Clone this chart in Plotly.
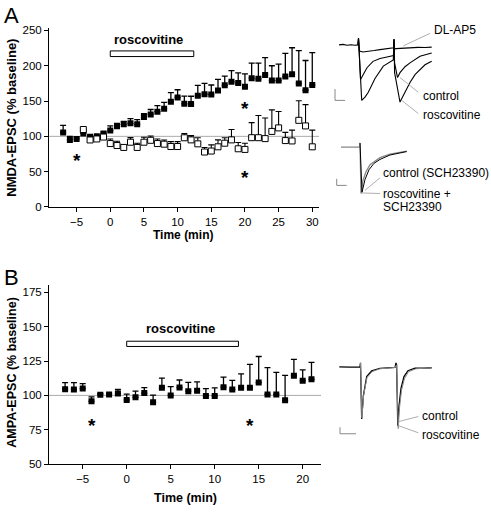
import plotly.graph_objects as go

W, H = 491, 513
FONT = "Liberation Sans, Arial, Helvetica, sans-serif"

# ---------------- Panel A data (NMDA-EPSC, % baseline) ----------------
tA_rosc = list(range(-7, 31))
nmda_rosc = [105.6, 94.9, 96.3, 104.2, 99.5, 100, 104.2, 108.3, 114.4, 117.1,
             118.5, 117.1, 127.3, 131, 135, 139, 149, 155, 146, 145.8,
             157.4, 159.7, 159.3, 164.8, 172.2, 177.3, 175.5, 170.4, 182.4, 181.5,
             187, 179, 179, 184.7, 188, 175, 165.3, 172.7]
nmda_rosc_err = [10, 5, 3, 2, 1.5, 1.5, 2, 6.5, 4, 4.2,
                 6.5, 6.5, 4.7, 7, 8.5, 9, 13, 11, 11, 11,
                 14.8, 15.3, 13.4, 15.8, 13, 15.7, 14.3, 18, 21.3, 22.2,
                 24.6, 21, 23.3, 32.9, 37.5, 46.3, 42.1, 45.8]

tA_sch = list(range(-4, 31))
nmda_sch = [109.7, 94.9, 96.3, 99, 89.8, 87, 84.3, 91.7, 84.3, 91.7,
            94.4, 89.8, 88.9, 85.6, 85.6, 98, 95, 89.4, 77.8, 79.2,
            85.2, 90.3, 95, 82.4, 81.5, 98.1, 98.1, 96.8, 107, 112,
            94, 93.5, 122.7, 114.8, 85.2]
nmda_sch_err = [0, 1, 1, 1, 6.5, 6, 3, 6.5, 6, 7,
                6, 6.5, 6, 7, 7, 6, 6, 8.6, 6.5, 8.8,
                9.8, 7.7, 14.7, 8.8, 8.8, 21.3, 31.5, 29.2, 30.5, 23.2,
                11.6, 15.3, 27.8, 30.2, 23.6]

# ---------------- Panel B data (AMPA-EPSC, % baseline) ----------------
tB = list(range(-7, 22))
ampa = [104.5, 104.3, 105, 95.7, 100.5, 100.7, 101.4, 96.7, 98.6, 101.7,
        95, 105.5, 100, 105.7, 103.1, 103.3, 99.5, 99.5, 106, 104.3,
        105.5, 105.5, 109.3, 100.7, 100.7, 96.4, 114.3, 110.7, 111.7]
ampa_err = [4.8, 5, 3.6, 3.3, 0.8, 0.8, 2.9, 4.3, 4.5, 4,
            5.2, 7.1, 6.4, 5.5, 6.4, 6.5, 5.5, 6, 7.3, 6.7,
            10.2, 17.1, 19, 19.5, 16, 18.1, 11.9, 7.9, 12.3]

xticksA = [-5, 0, 5, 10, 15, 20, 25, 30]
yticksA = [0, 50, 100, 150, 200, 250]
xticksB = [-5, 0, 5, 10, 15, 20]
yticksB = [50, 75, 100, 125, 150, 175]

starsA_x = [-5, 20, 20]
starsA_y = [73, 146, 49]
starsB_x = [-4, 14]
starsB_y = [82, 82]

# ---------------- Example current traces (inset frame units) ----------------
# Panel A, NMDA traces (DL-AP5, control, roscovitine)
ap5_x = [339, 343, 347, 351, 355, 358, 358.5, 359.5, 363, 368, 374, 380, 387, 393.5, 394, 394.6, 396, 402, 410, 418, 425, 431.7]
ap5_y = [41.7, 41.2, 42, 41.5, 42, 41.7, 35, 48, 49, 48.5, 47.5, 46.5, 45.5, 44.6, 36, 46, 45.5, 45, 44.5, 44.2, 44.4, 44]
ctl_x = [358, 358.5, 360.5, 363, 367, 373, 380, 387, 393.5, 394, 394.6, 397.5, 400, 405, 410, 420, 431.7]
ctl_y = [41.7, 35, 77, 72, 65, 58.5, 55.5, 54, 52.5, 36, 60, 75, 70, 64, 60, 53.3, 50]
ros_x = [358, 358.5, 361.7, 365, 368.3, 375, 383.3, 393.3, 394, 394.6, 400, 405, 410, 415, 420, 425, 431.7]
ros_y = [41.7, 35, 98.3, 95, 90, 76, 63.3, 57, 36, 70, 100, 90, 80, 72, 66.7, 62, 58.3]
# Panel A, SCH23390 traces
schc_x = [341, 350, 359.5, 360, 361, 363, 366, 370, 375, 380, 390, 400, 406.7]
schc_y = [146, 146.3, 146, 141.7, 193.3, 180, 171, 164, 160, 156.7, 153, 151, 150]
schr_x = [360, 362, 365, 369, 374, 380, 390, 400, 406.7]
schr_y = [141.7, 192, 179, 169, 162.5, 158.5, 154, 151.5, 150.5]
# Panel B, AMPA traces
ampc_x = [339.3, 350, 360, 360.5, 361.7, 363.3, 366.7, 371.7, 380, 395, 396, 396.6, 397.8, 399, 401, 404, 408, 415, 424, 431.7]
ampc_y = [370, 370.4, 370, 366, 423.3, 400, 380, 374, 371.7, 370.7, 366, 368, 430, 410, 392, 380, 374, 371.5, 371.3, 371]
ampr_x = [360.5, 361.9, 363.6, 367, 372, 380, 395, 396.6, 398.2, 399.5, 401.5, 404.5, 408.5, 416, 431.7]
ampr_y = [366, 422, 399, 381, 375, 372, 370.7, 368, 433, 412, 394, 382, 375, 372, 371]

fig = go.Figure()

# ---- Panel A scatter
fig.add_trace(go.Scatter(
    x=tA_rosc, y=nmda_rosc, mode="markers", xaxis="x", yaxis="y",
    marker=dict(symbol="square", size=6, color="black"),
    error_y=dict(type="data", symmetric=False, array=nmda_rosc_err,
                 arrayminus=[0] * len(nmda_rosc_err), color="black", thickness=1.3, width=3),
    showlegend=False))
fig.add_trace(go.Scatter(
    x=tA_sch, y=nmda_sch, mode="markers", xaxis="x", yaxis="y",
    marker=dict(symbol="square", size=6, color="white", line=dict(color="black", width=1)),
    error_y=dict(type="data", symmetric=False, array=nmda_sch_err,
                 arrayminus=[0] * len(nmda_sch_err), color="black", thickness=1.1, width=3),
    showlegend=False))

# ---- Panel B scatter
fig.add_trace(go.Scatter(
    x=tB, y=ampa, mode="markers", xaxis="x2", yaxis="y2",
    marker=dict(symbol="square", size=6, color="black"),
    error_y=dict(type="data", symmetric=False, array=ampa_err,
                 arrayminus=[0] * len(ampa_err), color="black", thickness=1.3, width=3),
    showlegend=False))

# ---- Inset traces
def tr(x, y, color="black", w=1.1):
    fig.add_trace(go.Scatter(x=x, y=y, mode="lines", xaxis="x3", yaxis="y3",
                             line=dict(color=color, width=w), showlegend=False,
                             hoverinfo="skip"))

tr(ap5_x, ap5_y)
tr(ctl_x, ctl_y)
tr(ros_x, ros_y)
tr(schc_x, schc_y, "#888888", 1.3)
tr(schr_x, schr_y, "black", 1.0)
tr(ampc_x, ampc_y, "black", 1.3)
tr(ampr_x, ampr_y, "#888888", 1.0)
# scale bars
tr([335, 335, 345], [86.7, 98.3, 98.3], "#888888", 1)
tr([336.7, 336.7, 346.7], [178.3, 185, 185], "#888888", 1)
tr([340, 340, 356], [431.7, 438.3, 438.3], "#888888", 1)
# leader lines
for (x0, y0, x1, y1) in [(430, 30, 403.3, 42.7), (418.3, 90, 400, 75), (418.3, 111.7, 401.7, 98.3),
                         (380, 177.3, 365, 190), (380, 193.3, 361.7, 192.7),
                         (418.3, 420.7, 398.3, 426), (418.3, 437.3, 398.3, 430)]:
    tr([x0, x1], [y0, y1], "#999999", 0.8)

axis_common = dict(showline=True, linecolor="black", linewidth=1, ticks="outside",
                   ticklen=4, tickwidth=1, tickcolor="black", showgrid=False,
                   zeroline=False, mirror=False,
                   tickfont=dict(family=FONT, size=11.5, color="black"))

def dom_x(a, b):
    return [a / W, b / W]

def dom_y(top, bottom):
    return [1 - bottom / H, 1 - top / H]

fig.update_layout(
    width=W, height=H, margin=dict(l=0, r=0, t=0, b=0),
    paper_bgcolor="white", plot_bgcolor="rgba(0,0,0,0)",
    xaxis=dict(domain=dom_x(49, 319), range=[-9.1, 31.0], tickvals=xticksA,
               anchor="y", **axis_common),
    yaxis=dict(domain=dom_y(24.8, 207), range=[0, 253], tickvals=yticksA,
               anchor="x", **axis_common),
    xaxis2=dict(domain=dom_x(49, 321), range=[-8.83, 22.08], tickvals=xticksB,
                anchor="y2", **axis_common),
    yaxis2=dict(domain=dom_y(287, 469.3), range=[50, 180], tickvals=yticksB,
                anchor="x2", **axis_common),
    xaxis3=dict(domain=[0, 1], range=[0, W], visible=False, anchor="y3", fixedrange=True),
    yaxis3=dict(domain=[0, 1], range=[H, 0], visible=False, anchor="x3", fixedrange=True),
    font=dict(family=FONT, color="black"),
)

# 100% reference lines
fig.add_shape(type="line", xref="x domain", yref="y", x0=0, x1=1, y0=100, y1=100,
              line=dict(color="#aaaaaa", width=1), layer="below")
fig.add_shape(type="line", xref="x2 domain", yref="y2", x0=0, x1=1, y0=100, y1=100,
              line=dict(color="#aaaaaa", width=1), layer="below")

# roscovitine bars
fig.add_shape(type="rect", xref="x", yref="y", x0=0, x1=12.4, y0=213, y1=221,
              line=dict(color="black", width=1), fillcolor="white")
fig.add_shape(type="rect", xref="x2", yref="y2", x0=0, x1=12.7, y0=135.6, y1=139.4,
              line=dict(color="black", width=1), fillcolor="white")

ann = []
ann.append(dict(x=5.65, y=236.5, xref="x", yref="y", text="<b>roscovitine</b>",
                showarrow=False, font=dict(size=13)))
ann.append(dict(x=6.07, y=148.6, xref="x2", yref="y2", text="<b>roscovitine</b>",
                showarrow=False, font=dict(size=13)))
for x, y in zip(starsA_x, starsA_y):
    ann.append(dict(x=x, y=y, xref="x", yref="y", text="<b>*</b>", showarrow=False,
                    font=dict(size=19), yshift=-5))
for x, y in zip(starsB_x, starsB_y):
    ann.append(dict(x=x, y=y, xref="x2", yref="y2", text="<b>*</b>", showarrow=False,
                    font=dict(size=19), yshift=-5))

# axis titles
ann.append(dict(x=182.7, y=235.5, xref="x3", yref="y3", text="<b>Time (min)</b>",
                showarrow=False, font=dict(size=12)))
ann.append(dict(x=185, y=503.8, xref="x3", yref="y3", text="<b>Time (min)</b>",
                showarrow=False, font=dict(size=12.5)))
ann.append(dict(x=12, y=116, xref="x3", yref="y3", text="<b>NMDA-EPSC (% baseline)</b>",
                showarrow=False, textangle=-90, font=dict(size=13)))
ann.append(dict(x=12, y=376, xref="x3", yref="y3", text="<b>AMPA-EPSC (% baseline)</b>",
                showarrow=False, textangle=-90, font=dict(size=12.5)))

# panel letters
ann.append(dict(x=2, y=12, xref="x3", yref="y3", text="A", showarrow=False,
                xanchor="left", font=dict(size=22)))
ann.append(dict(x=2, y=279, xref="x3", yref="y3", text="B", showarrow=False,
                xanchor="left", font=dict(size=22)))

# trace labels
for x, y, t in [(431.7, 26.7, "DL-AP5"), (420.7, 94, "control"), (420.7, 113.3, "roscovitine"),
                (381, 172.7, "control (SCH23390)"), (381, 193.3, "roscovitine +"),
                (381, 206.7, "SCH23390"), (420, 420, "control"), (420, 439.3, "roscovitine")]:
    ann.append(dict(x=x, y=y, xref="x3", yref="y3", text=t, showarrow=False,
                    xanchor="left", font=dict(size=12)))

fig.update_layout(annotations=ann)
fig.write_html("out.html", config={"displayModeBar": False},
               post_script="document.body.style.margin='0px';document.body.style.overflow='hidden';")
